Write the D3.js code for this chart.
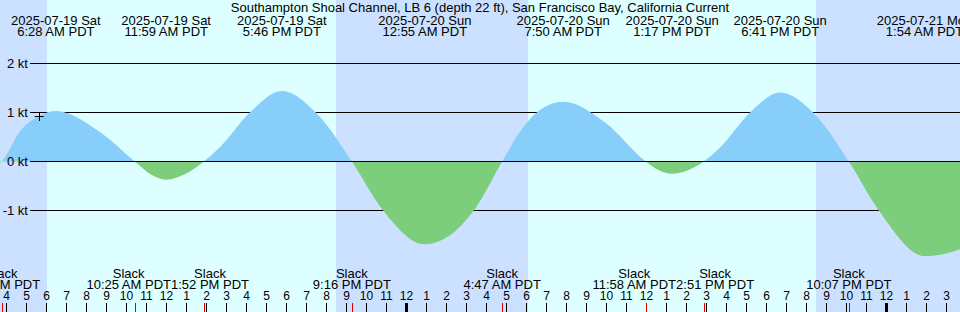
<!DOCTYPE html>
<html>
<head>
<meta charset="utf-8">
<script src="https://cdn.jsdelivr.net/npm/d3@7"></script>
<style>
  html, body { margin: 0; padding: 0; background: #fff; }
  svg { display: block; font-family: "Liberation Sans", Arial, sans-serif; }
</style>
</head>
<body>
<svg id="chart" width="960" height="312"></svg>
<script>
// ─── Data (times are PDT wall clock) ────────────────────────────────────────
const TITLE = 'Southampton Shoal Channel, LB 6 (depth 22 ft), San Francisco Bay, California Current';

// current curve (kt, + = flood, - = ebb)
const curveTimes = [
  '2025-07-19 01:30', '2025-07-19 03:45', '2025-07-19 04:42', '2025-07-19 05:38',
  '2025-07-19 06:28', '2025-07-19 08:40', '2025-07-19 10:25', '2025-07-19 11:12',
  '2025-07-19 11:59', '2025-07-19 12:55', '2025-07-19 13:52', '2025-07-19 14:40',
  '2025-07-19 16:10', '2025-07-19 17:46', '2025-07-19 19:28', '2025-07-19 21:16',
  '2025-07-19 22:50', '2025-07-20 00:55', '2025-07-20 03:22', '2025-07-20 04:47',
  '2025-07-20 05:40', '2025-07-20 06:40', '2025-07-20 07:50', '2025-07-20 09:55',
  '2025-07-20 11:58', '2025-07-20 12:37', '2025-07-20 13:17', '2025-07-20 14:04',
  '2025-07-20 14:51', '2025-07-20 15:40', '2025-07-20 17:08', '2025-07-20 18:41',
  '2025-07-20 20:23', '2025-07-20 22:07', '2025-07-20 23:37', '2025-07-21 01:54',
  '2025-07-21 03:40', '2025-07-21 06:00'
];
const curveValues = [
  -0.45, 0, 0.63, 0.93,
  1.03, 0.6, 0, -0.26,
  -0.37, -0.26, 0, 0.29,
  1.0, 1.44, 1.0, 0,
  -1.0, -1.69, -1.0, 0,
  0.6, 1.05, 1.22, 0.8,
  0, -0.18, -0.25, -0.18,
  0, 0.28, 0.98, 1.41,
  0.98, 0, -1.0, -1.93,
  -1.79, 0
];

// max flood / max ebb events (labelled along the top)
const maxTimes = ['2025-07-19 06:28', '2025-07-19 11:59', '2025-07-19 17:46', '2025-07-20 00:55',
                  '2025-07-20 07:50', '2025-07-20 13:17', '2025-07-20 18:41', '2025-07-21 01:54'];
// slack water events (labelled along the bottom)
const slackTimes = ['2025-07-19 03:45', '2025-07-19 10:25', '2025-07-19 13:52', '2025-07-19 21:16',
                    '2025-07-20 04:47', '2025-07-20 11:58', '2025-07-20 14:51', '2025-07-20 22:07'];

// night spans [sunset, sunrise]
const nightStarts = ['2025-07-19 00:00', '2025-07-19 20:29', '2025-07-20 20:29'];
const nightEnds   = ['2025-07-19 06:02', '2025-07-20 06:04', '2025-07-21 12:00'];

const yTicks = [2, 1, 0, -1];
const markTime = '2025-07-19 05:38', markValue = 0.93;

// ─── Setup ───────────────────────────────────────────────────────────────────
const W = 960, H = 312;
const parse = d3.utcParse('%Y-%m-%d %H:%M');
const fmtDate = d3.utcFormat('%Y-%m-%d %a');
const fmtTime = d3.utcFormat('%-I:%M %p PDT');
const fmtHour = d3.utcFormat('%-I');

const tStart = d3.utcParse('%Y-%m-%d %H:%M:%S')('2025-07-19 03:40:30');
const x = d3.scaleUtc().domain([tStart, d3.utcHour.offset(tStart, 48)]).range([0, W]);
const y = d3.scaleLinear().domain([0, 1]).range([161.5, 112.5]);

const C = {
  day: '#ddffff', night: '#cce0ff',
  flood: '#87cefa', ebb: '#7ccd7c'
};

const svg = d3.select('#chart');
const defs = svg.append('defs');
defs.append('clipPath').attr('id', 'clip-up')
  .append('rect').attr('x', 0).attr('y', 0).attr('width', W).attr('height', y(0));
defs.append('clipPath').attr('id', 'clip-down')
  .append('rect').attr('x', 0).attr('y', y(0)).attr('width', W).attr('height', H - y(0));

// background: day, then night spans
svg.append('rect').attr('width', W).attr('height', H).attr('fill', C.day);
svg.selectAll('rect.night').data(d3.zip(nightStarts, nightEnds)).join('rect')
  .attr('class', 'night')
  .attr('x', d => Math.max(0, Math.round(x(parse(d[0])))))
  .attr('y', 0)
  .attr('width', d => Math.min(W, Math.round(x(parse(d[1])))) - Math.max(0, Math.round(x(parse(d[0])))))
  .attr('height', H)
  .attr('fill', C.night);

// grid lines (except zero, drawn last)
svg.selectAll('line.grid').data(yTicks.filter(v => v !== 0)).join('line')
  .attr('class', 'grid')
  .attr('x1', 30).attr('x2', W)
  .attr('y1', d => y(d)).attr('y2', d => y(d))
  .attr('stroke', '#000').attr('stroke-width', 1);

// current area, split at zero into flood (blue) and ebb (green)
const pts = curveTimes.map((t, i) => [parse(t), curveValues[i]]);
const area = d3.area()
  .x(d => x(d[0]))
  .y0(y(0))
  .y1(d => y(d[1]))
  .curve(d3.curveMonotoneX);
svg.append('path').datum(pts).attr('d', area).attr('fill', C.flood).attr('clip-path', 'url(#clip-up)');
svg.append('path').datum(pts).attr('d', area).attr('fill', C.ebb).attr('clip-path', 'url(#clip-down)');

// zero line
svg.append('line').attr('x1', 30).attr('x2', W).attr('y1', y(0)).attr('y2', y(0))
  .attr('stroke', '#000').attr('stroke-width', 1);

// y labels
svg.selectAll('text.ylab').data(yTicks).join('text')
  .attr('class', 'ylab')
  .attr('x', 28).attr('y', d => y(d) + 4.5)
  .attr('text-anchor', 'end').attr('font-size', 13)
  .text(d => `${d} kt`);

// "now" mark
const mx = x(parse(markTime)), my = y(markValue);
svg.append('path')
  .attr('d', `M${mx - 4.5},${Math.round(my) + 0.5}H${mx + 4.5}M${Math.round(mx) + 0.5},${Math.round(my) - 3}V${Math.round(my) + 5}`)
  .attr('stroke', '#000').attr('stroke-width', 1).attr('fill', 'none');

// title
svg.append('text').attr('x', W / 2).attr('y', 12).attr('text-anchor', 'middle')
  .attr('font-size', 13).text(TITLE);

// max labels along the top
const maxG = svg.selectAll('g.maxlab').data(maxTimes.map(parse)).join('g')
  .attr('class', 'maxlab')
  .attr('transform', d => `translate(${x(d)},0)`)
  .attr('font-size', 13).attr('text-anchor', 'middle');
maxG.append('text').attr('y', 25).text(d => fmtDate(d));
maxG.append('text').attr('y', 36).text(d => fmtTime(d));

// slack labels along the bottom; neighbours that would collide are pushed apart
const slackG = svg.selectAll('g.slacklab').data(slackTimes.map(parse)).join('g')
  .attr('class', 'slacklab')
  .attr('font-size', 13).attr('text-anchor', 'middle');
slackG.append('text').attr('y', 278).text('Slack');
const slackTxt = slackG.append('text').attr('y', 289).text(d => fmtTime(d));
const widths = slackTxt.nodes().map(n => n.getComputedTextLength());
const pos = slackTimes.map(t => x(parse(t)));
for (let pass = 0; pass < 5; pass++) {
  for (let i = 0; i < pos.length - 1; i++) {
    const over = (widths[i] + widths[i + 1]) / 2 - (pos[i + 1] - pos[i]);
    if (over > 0) { pos[i] -= over / 2; pos[i + 1] += over / 2; }
  }
}
slackG.attr('transform', (d, i) => `translate(${pos[i]},0)`);

// hour ticks
const hours = x.ticks(d3.utcHour.every(1));
svg.selectAll('line.hour').data(hours).join('line')
  .attr('class', 'hour')
  .attr('x1', d => Math.floor(x(d)) + 0.5).attr('x2', d => Math.floor(x(d)) + 0.5)
  .attr('y1', 303).attr('y2', H)
  .attr('stroke', '#000')
  .attr('stroke-width', d => d.getUTCHours() === 0 ? 3 : 1);
svg.selectAll('text.hour').data(hours).join('text')
  .attr('class', 'hour')
  .attr('x', d => Math.floor(x(d)) + 0.5).attr('y', 300)
  .attr('text-anchor', 'middle').attr('font-size', 12)
  .text(d => fmtHour(d));

// slack ticks
svg.selectAll('line.slack').data(slackTimes.map(parse)).join('line')
  .attr('class', 'slack')
  .attr('x1', d => Math.round(x(d)) + 0.5).attr('x2', d => Math.round(x(d)) + 0.5)
  .attr('y1', 303).attr('y2', H)
  .attr('stroke', '#e00000').attr('stroke-width', 1);
</script>
</body>
</html>
